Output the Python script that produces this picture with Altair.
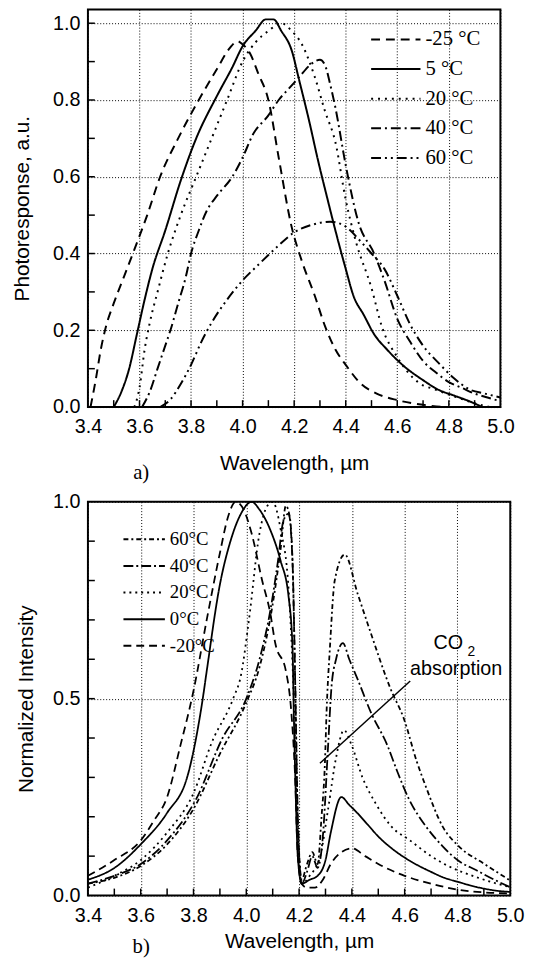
import altair as alt
import pandas as pd

SANS = "Liberation Sans"
SERIF = "Liberation Serif"

# ---------------- panel a) : photoresponse ----------------
a_names = ["-25 °C", "5 °C", "20 °C", "40 °C", "60 °C"]

a_m25_x = [3.41, 3.43, 3.45, 3.47, 3.50, 3.54, 3.58, 3.63, 3.68, 3.75, 3.83, 3.90, 3.95, 3.98, 4.00, 4.03,
           4.06, 4.10, 4.14, 4.19, 4.23, 4.28, 4.32, 4.36, 4.40, 4.46, 4.52, 4.60, 4.70, 4.80, 5.00]
a_m25_y = [0.00, 0.07, 0.15, 0.21, 0.27, 0.34, 0.41, 0.50, 0.60, 0.70, 0.80, 0.88, 0.935, 0.953, 0.945, 0.92,
           0.87, 0.80, 0.65, 0.47, 0.38, 0.29, 0.21, 0.15, 0.11, 0.06, 0.035, 0.018, 0.006, 0.0, 0.0]

a_5_x = [3.50, 3.53, 3.56, 3.59, 3.62, 3.65, 3.70, 3.76, 3.82, 3.90, 3.96, 4.00, 4.05, 4.09, 4.12, 4.15, 4.19,
         4.22, 4.26, 4.29, 4.33, 4.36, 4.40, 4.43, 4.47, 4.51, 4.56, 4.62, 4.70, 4.76, 4.82, 4.88, 4.93]
a_5_y = [0.00, 0.04, 0.10, 0.19, 0.28, 0.36, 0.46, 0.59, 0.70, 0.81, 0.885, 0.94, 0.98, 1.01, 1.01, 0.98, 0.93,
         0.85, 0.74, 0.65, 0.54, 0.46, 0.36, 0.29, 0.24, 0.19, 0.15, 0.11, 0.07, 0.045, 0.03, 0.015, 0.0]

a_20_x = [3.58, 3.60, 3.62, 3.64, 3.67, 3.71, 3.76, 3.82, 3.88, 3.94, 4.00, 4.05, 4.10, 4.15, 4.19, 4.23, 4.28,
          4.32, 4.36, 4.40, 4.44, 4.50, 4.54, 4.60, 4.68, 4.75, 4.82, 4.90, 4.96]
a_20_y = [0.00, 0.05, 0.15, 0.22, 0.30, 0.40, 0.50, 0.60, 0.70, 0.80, 0.90, 0.95, 0.98, 1.00, 0.98, 0.945, 0.86,
          0.77, 0.69, 0.54, 0.43, 0.31, 0.21, 0.13, 0.065, 0.045, 0.028, 0.01, 0.0]

a_40_x = [3.61, 3.64, 3.67, 3.70, 3.72, 3.75, 3.78, 3.80, 3.83, 3.86, 3.90, 3.96, 4.00, 4.04, 4.10, 4.14, 4.18,
          4.22, 4.26, 4.30, 4.32, 4.34, 4.36, 4.40, 4.45, 4.51, 4.55, 4.60, 4.65, 4.70, 4.75, 4.80, 4.85, 4.90,
          4.95, 5.00]
a_40_y = [0.00, 0.04, 0.10, 0.16, 0.20, 0.27, 0.34, 0.40, 0.46, 0.51, 0.55, 0.60, 0.65, 0.71, 0.76, 0.80, 0.83,
          0.86, 0.89, 0.905, 0.89, 0.84, 0.78, 0.63, 0.48, 0.40, 0.33, 0.23, 0.17, 0.12, 0.09, 0.065, 0.05, 0.035,
          0.025, 0.015]

a_60_x = [3.68, 3.72, 3.76, 3.80, 3.84, 3.88, 3.94, 4.00, 4.06, 4.13, 4.20, 4.27, 4.34, 4.40, 4.46, 4.50, 4.55,
          4.60, 4.65, 4.70, 4.76, 4.82, 4.88, 4.94, 5.00]
a_60_y = [0.00, 0.02, 0.06, 0.11, 0.17, 0.22, 0.28, 0.33, 0.37, 0.415, 0.455, 0.475, 0.483, 0.47, 0.43, 0.40,
          0.36, 0.29, 0.215, 0.16, 0.115, 0.075, 0.046, 0.035, 0.025]

a_dashes = [[9, 6], [1, 0], [2, 5], [10, 4, 2, 4], [10, 4, 2, 4, 2, 4]]

# ---------------- panel b) : normalized intensity ----------------
b_names = ["60°C", "40°C", "20°C", "0°C", "-20°C"]

b_60_x = [3.40, 3.50, 3.60, 3.70, 3.80, 3.90, 4.00, 4.05, 4.10, 4.13, 4.15, 4.165, 4.175, 4.185, 4.195, 4.21,
          4.23, 4.25, 4.27, 4.285, 4.298, 4.304, 4.317, 4.335, 4.373, 4.422, 4.472, 4.547, 4.597, 4.646, 4.68,
          4.744, 4.808, 4.90, 5.00]
b_60_y = [0.03, 0.045, 0.075, 0.13, 0.22, 0.36, 0.49, 0.58, 0.74, 0.88, 0.99, 0.96, 0.85, 0.55, 0.20, 0.04,
          0.08, 0.11, 0.08, 0.20, 0.34, 0.465, 0.632, 0.80, 0.866, 0.766, 0.666, 0.524, 0.449, 0.34, 0.277,
          0.175, 0.123, 0.081, 0.038]

b_40_x = [3.40, 3.50, 3.60, 3.70, 3.81, 3.91, 4.00, 4.05, 4.09, 4.12, 4.14, 4.16, 4.175, 4.185, 4.195, 4.21,
          4.23, 4.25, 4.27, 4.29, 4.31, 4.323, 4.34, 4.366, 4.39, 4.422, 4.472, 4.534, 4.572, 4.616, 4.68, 4.744,
          4.80, 4.872, 4.94, 5.00]
b_40_y = [0.03, 0.05, 0.08, 0.14, 0.245, 0.40, 0.50, 0.60, 0.72, 0.85, 0.95, 0.97, 0.85, 0.55, 0.20, 0.03,
          0.06, 0.10, 0.07, 0.15, 0.382, 0.532, 0.60, 0.641, 0.60, 0.549, 0.465, 0.382, 0.315, 0.245, 0.176,
          0.125, 0.09, 0.064, 0.04, 0.021]

b_20_x = [3.40, 3.50, 3.60, 3.70, 3.80, 3.87, 3.95, 3.98, 4.01, 4.05, 4.08, 4.10, 4.13, 4.16, 4.18, 4.195, 4.21,
          4.24, 4.28, 4.31, 4.34, 4.37, 4.40, 4.44, 4.49, 4.55, 4.62, 4.70, 4.75, 4.87, 5.00]
b_20_y = [0.02, 0.05, 0.09, 0.16, 0.26, 0.39, 0.50, 0.56, 0.70, 0.92, 0.99, 1.00, 0.93, 0.78, 0.50, 0.15, 0.03,
          0.05, 0.10, 0.22, 0.35, 0.42, 0.38, 0.30, 0.234, 0.175, 0.14, 0.10, 0.08, 0.047, 0.021]

b_0_x = [3.40, 3.50, 3.60, 3.70, 3.78, 3.835, 3.85, 3.90, 3.94, 3.98, 4.02, 4.05, 4.09, 4.13, 4.16, 4.175, 4.18,
         4.186, 4.195, 4.21, 4.24, 4.27, 4.30, 4.32, 4.36, 4.39, 4.42, 4.46, 4.50, 4.56, 4.62, 4.70, 4.75, 4.80,
         4.87, 4.95, 5.00]
b_0_y = [0.04, 0.07, 0.13, 0.21, 0.31, 0.50, 0.57, 0.79, 0.90, 0.97, 1.00, 0.98, 0.93, 0.85, 0.76, 0.63, 0.46,
         0.29, 0.10, 0.03, 0.04, 0.05, 0.09, 0.16, 0.25, 0.23, 0.21, 0.18, 0.15, 0.115, 0.088, 0.06, 0.045, 0.035,
         0.022, 0.012, 0.009]

b_m20_x = [3.40, 3.50, 3.60, 3.65, 3.70, 3.75, 3.80, 3.85, 3.90, 3.93, 3.96, 3.99, 4.02, 4.06, 4.09, 4.11, 4.15,
           4.17, 4.185, 4.195, 4.21, 4.23, 4.26, 4.29, 4.32, 4.36, 4.40, 4.45, 4.50, 4.60, 4.70, 4.80, 4.90, 5.00]
b_m20_y = [0.05, 0.09, 0.14, 0.19, 0.25, 0.38, 0.52, 0.70, 0.87, 0.96, 1.00, 0.98, 0.92, 0.80, 0.72, 0.64, 0.57,
           0.47, 0.30, 0.10, 0.03, 0.02, 0.02, 0.04, 0.08, 0.11, 0.12, 0.10, 0.08, 0.05, 0.03, 0.015, 0.008, 0.005]

b_dashes = [[5, 3, 2, 3], [10, 3, 2, 3], [2, 4], [1, 0], [8, 5]]

# CO2 annotation
co2_line_x = [4.279]
co2_line_y = [0.336]
co2_line_x2 = [4.621]
co2_line_y2 = [0.545]
co2_text = ["CO", "2", "absorption"]
co2_text_x = [4.765, 4.853, 4.795]
co2_text_y = [0.642, 0.618, 0.574]
co2_text_size = [20, 14, 20]

# axis values / ticks
x_labels = [3.4, 3.6, 3.8, 4.0, 4.2, 4.4, 4.6, 4.8, 5.0]
x_ticks = [3.5, 3.6, 3.7, 3.8, 3.9, 4.0, 4.1, 4.2, 4.3, 4.4, 4.5, 4.6, 4.7, 4.8, 4.9]
a_y_labels = [0.0, 0.2, 0.4, 0.6, 0.8, 1.0]
a_y_ticks = [0.1, 0.2, 0.3, 0.4, 0.5, 0.6, 0.7, 0.8, 0.9, 1.0]
b_y_labels = [0.0, 0.5, 1.0]
b_y_ticks = [0.1, 0.2, 0.3, 0.4, 0.5, 0.6, 0.7, 0.8, 0.9]


def long_df(names, xs, ys):
    rows = []
    for n, xv, yv in zip(names, xs, ys):
        for a, b in zip(xv, yv):
            rows.append({"series": n, "x": a, "y": b})
    return pd.DataFrame(rows)


def panel(df, names, dashes, ydom, ylabels, yticks, ytitle, W, H, title_x,
          leg, label, label_dy, xtitle_dy, stroke_w, extra=None):
    xs = alt.Scale(domain=[3.4, 5.0], nice=False, zero=False)
    ys = alt.Scale(domain=ydom, nice=False, zero=False)
    common = dict(labelFont=SANS, labelFontSize=20, labelColor="black",
                  labelFlush=False, labelOverlap=False, ticks=False, domain=False,
                  grid=True, gridColor="black", gridDash=[1, 2], gridWidth=1, gridOpacity=1,
                  titleFont=SANS, titleFontSize=21, titleFontWeight="normal", titleColor="black",
                  format=".1f")
    xaxis = alt.Axis(values=x_labels, title="Wavelength, µm", titleY=xtitle_dy, labelPadding=10,
                     titleBaseline="middle", **common)
    yaxis = alt.Axis(values=ylabels, title=ytitle, titleX=title_x, labelPadding=8,
                     titleBaseline="middle", **common)
    lines = alt.Chart(df).mark_line(color="black", strokeWidth=stroke_w, interpolate="monotone",
                                    clip=True).encode(
        x=alt.X("x:Q", scale=xs, axis=xaxis, title="Wavelength, µm"),
        y=alt.Y("y:Q", scale=ys, axis=yaxis, title=ytitle),
        strokeDash=alt.StrokeDash("series:N", scale=alt.Scale(domain=names, range=dashes),
                                  legend=alt.Legend(**leg)),
        detail="series:N",
    )
    xt = alt.Chart(pd.DataFrame({"x": x_ticks})).mark_rule(color="black", strokeWidth=1.5).encode(
        x=alt.X("x:Q", scale=xs, axis=xaxis, title="Wavelength, µm"), y=alt.value(H), y2=alt.value(H - 7))
    yt = alt.Chart(pd.DataFrame({"y": yticks})).mark_rule(color="black", strokeWidth=1.5).encode(
        y=alt.Y("y:Q", scale=ys, axis=yaxis, title=ytitle), x=alt.value(0), x2=alt.value(7))
    lab = alt.Chart(pd.DataFrame({"t": [label]})).mark_text(
        font=SERIF, fontSize=21, color="black", align="center", baseline="middle").encode(
        x=alt.value(54), y=alt.value(H + label_dy), text="t:N")
    layers = [lines, xt, yt, lab]
    if extra:
        layers += [e(xs, ys, xaxis, yaxis, ytitle) for e in extra]
    return alt.layer(*layers).properties(width=W, height=H)


a_df = long_df(a_names, [a_m25_x, a_5_x, a_20_x, a_40_x, a_60_x],
               [a_m25_y, a_5_y, a_20_y, a_40_y, a_60_y])
b_df = long_df(b_names, [b_60_x, b_40_x, b_20_x, b_0_x, b_m20_x],
               [b_60_y, b_40_y, b_20_y, b_0_y, b_m20_y])

leg_common = dict(title=None, orient="none", symbolType="stroke", symbolStrokeWidth=2,
                  symbolStrokeColor="black", labelFont=SERIF, labelColor="black", labelOffset=4,
                  padding=0, direction="vertical")

top = panel(a_df, a_names, a_dashes, [0, 1.036], a_y_labels, a_y_ticks, "Photoresponse, a.u.",
            418, 403, -66,
            dict(legendX=286, legendY=22, symbolSize=2500, clipHeight=17, rowPadding=8,
                 labelFontSize=21, **leg_common),
            "a)", 67, 57, 2)

co2_df = pd.DataFrame({"x": co2_line_x, "y": co2_line_y, "x2": co2_line_x2, "y2": co2_line_y2})
txt_df = pd.DataFrame({"t": co2_text, "x": co2_text_x, "y": co2_text_y, "s": co2_text_size})


def co2_rule(xs, ys, xaxis, yaxis, ytitle):
    return alt.Chart(co2_df).mark_rule(color="black", strokeWidth=1.5).encode(
        x=alt.X("x:Q", scale=xs, axis=xaxis, title="Wavelength, µm"),
        y=alt.Y("y:Q", scale=ys, axis=yaxis, title=ytitle), x2="x2:Q", y2="y2:Q")


def co2_txt(xs, ys, xaxis, yaxis, ytitle):
    return alt.Chart(txt_df).mark_text(font=SANS, color="black", align="center", baseline="middle").encode(
        x=alt.X("x:Q", scale=xs, axis=xaxis, title="Wavelength, µm"),
        y=alt.Y("y:Q", scale=ys, axis=yaxis, title=ytitle), text="t:N",
        size=alt.Size("s:Q", scale=None, legend=None))


bottom = panel(b_df, b_names, b_dashes, [0, 1.0], b_y_labels, b_y_ticks, "Normalized Intensity",
               428, 399, -62,
               dict(legendX=35, legendY=30, symbolSize=1764, clipHeight=16, rowPadding=8,
                    labelFontSize=19, **leg_common),
               "b)", 52, 47, 1.8, extra=[co2_rule, co2_txt])

chart = alt.vconcat(top, bottom, spacing=7).resolve_scale(
    strokeDash="independent", x="independent", y="independent"
).properties(
    padding={"left": 3, "top": -6, "right": 5, "bottom": 0}
).configure_view(stroke="black", strokeWidth=2)

chart.save("out.html", embed_options={"renderer": "svg", "actions": False})
